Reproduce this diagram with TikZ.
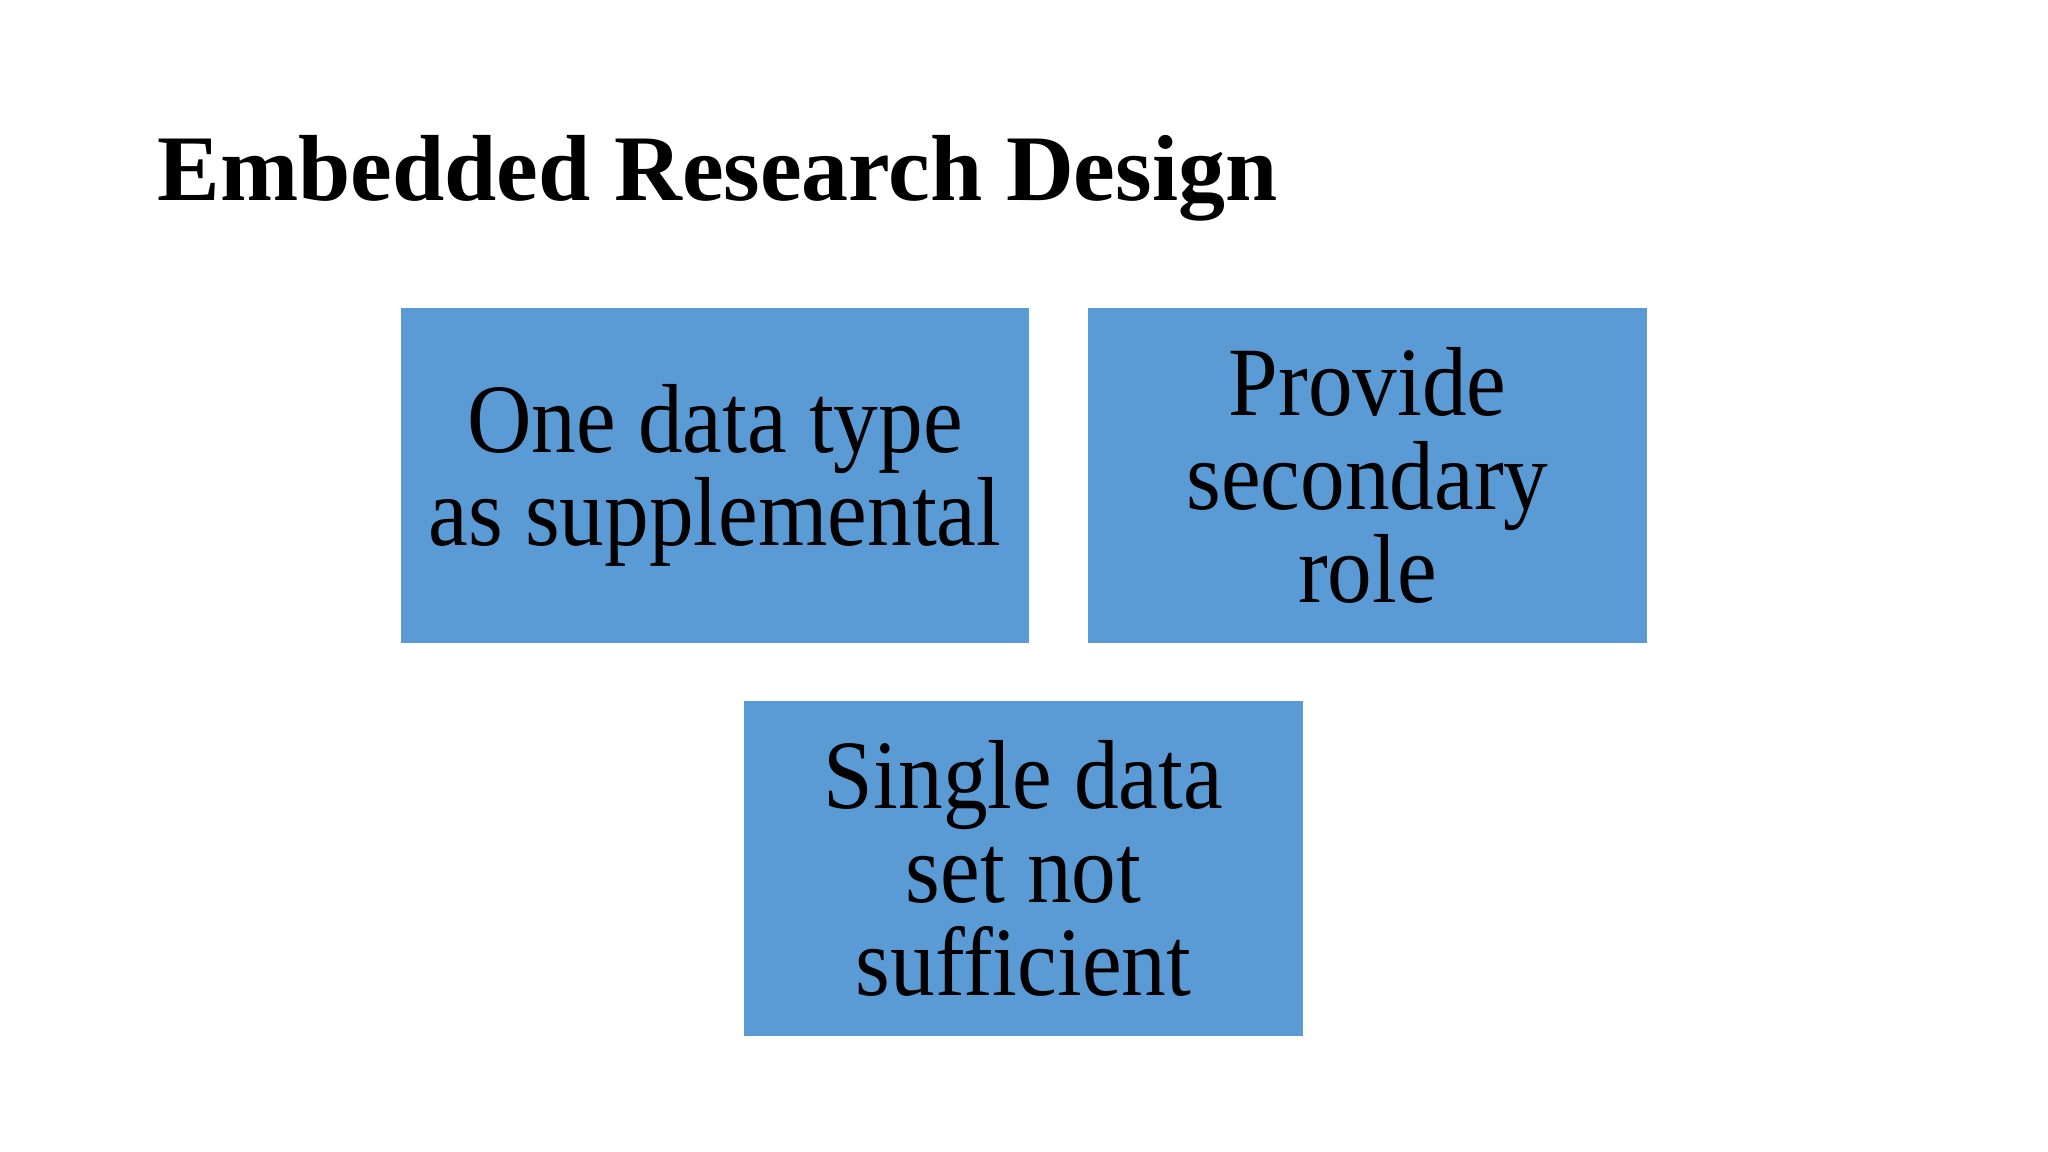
\documentclass[tikz,border=0pt]{standalone}
\usepackage{fontspec}
\setmainfont{Liberation Serif}
\newfontfamily\boxfont[FakeStretch=0.91]{Liberation Serif}
\definecolor{boxblue}{HTML}{5B9BD5}
\begin{document}
\begin{tikzpicture}[x=0.01cm,y=-0.01cm,
  itembox/.style={fill=boxblue, draw=none, inner sep=0pt, align=center,
    font=\boxfont\fontsize{27.9pt}{26.6pt}\selectfont},
  titletext/.style={anchor=base west, inner sep=0pt,
    font=\fontsize{26.7pt}{30pt}\selectfont\bfseries}]
\fill[white] (0,0) rectangle (2048,1152);
\useasboundingbox (0,0) rectangle (2048,1152);
\node[titletext] (title) at (157,201) {Embedded Research Design};
\node[itembox, minimum width=6.28cm, minimum height=3.35cm] (b1) at (715,475.5) {One data type\\as supplemental};
\node[itembox, minimum width=5.59cm, minimum height=3.35cm] (b2) at (1367.5,475.5) {Provide\\secondary\\role};
\node[itembox, minimum width=5.59cm, minimum height=3.35cm] (b3) at (1023.5,868.5) {Single data\\set not\\sufficient};
\end{tikzpicture}
\end{document}
